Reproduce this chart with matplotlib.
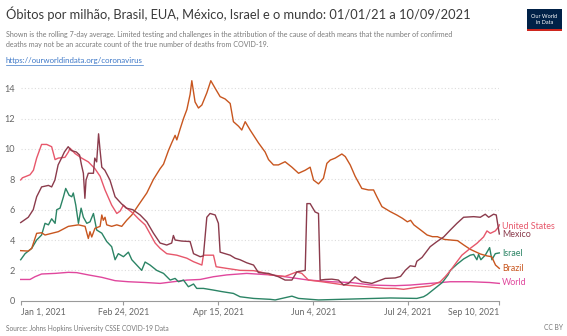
import matplotlib
matplotlib.use("Agg")
import matplotlib.pyplot as plt
from matplotlib.patches import Rectangle
from matplotlib.lines import Line2D

plt.rcParams['font.family'] = ['Lato', 'DejaVu Sans']

# day 0 = Jan 1, 2021 ; values are deaths per million (7-day avg)
united_states = [(0, 7.96), (0.9, 8.1), (4.9, 8.3), (6.7, 8.6), (8.4, 9.4), (11, 10.3), (13.7, 10.3),
                 (16.3, 10.15), (18.1, 9.3), (19.8, 9.4), (23.3, 9.45), (25.1, 9.8), (26, 10.05),
                 (28.6, 9.7), (32.1, 9.4), (35.6, 9.15), (39.1, 8.7), (41.8, 8.2), (44.4, 7.3),
                 (47.9, 6.3), (50.6, 5.75), (52.3, 5.9), (54.1, 6.3), (55.8, 6.1), (59.3, 5.75),
                 (62, 5.4), (65.5, 5.0), (66.4, 4.8), (70.8, 3.8), (73.4, 3.45), (76.9, 3.1),
                 (82.2, 3.0), (87.5, 2.8), (91, 2.57), (95.4, 2.35), (96.2, 3.0), (101.5, 3.0),
                 (102.9, 2.24), (108.5, 2.13), (115.5, 2.0), (122.6, 1.98), (126.1, 1.9),
                 (131.4, 1.7), (139.2, 1.6), (145.4, 1.9), (148, 1.8), (151.5, 1.36), (158.6, 1.25),
                 (170.9, 1.03), (181.4, 0.92), (191.9, 0.81), (197.2, 0.81), (201.6, 0.75),
                 (208.6, 0.88), (215.6, 0.97), (220.9, 1.25), (223.5, 1.58), (226.2, 1.98),
                 (229.7, 2.57), (232.3, 3.0), (236.7, 3.45), (240.2, 3.78), (243.7, 4.2),
                 (245.5, 4.6), (247.3, 4.44), (249.9, 4.6), (251.7, 4.88), (252, 5.0)]

mexico = [(0, 5.15), (4, 5.5), (6.6, 6.0), (8.4, 6.85), (11, 7.5), (14.6, 7.6), (16.3, 7.5), (18, 7.95),
          (19.7, 8.95), (21.5, 9.4), (23, 9.8), (25, 10.15), (26.6, 9.9), (29.3, 9.8), (31, 9.6),
          (32, 8.95), (33, 8.4), (33.8, 6.75), (34.4, 7.95), (35.6, 8.4), (38.3, 8.4), (39, 9.4),
          (40, 9.15), (41, 11.0), (41.8, 9.9), (42.7, 8.8), (44.3, 8.6), (47, 7.95), (49.7, 6.85),
          (53, 6.4), (55.6, 6.1), (59, 6.0), (62.9, 5.65), (66.4, 5.2), (69.9, 4.45), (73.4, 3.8),
          (76.9, 3.67), (79.5, 3.8), (80.4, 4.3), (81.3, 4.0), (84.8, 3.93), (89.2, 3.9), (91, 3.1),
          (94.5, 2.9), (96.2, 2.95), (98, 5.5), (99.7, 5.75), (102.4, 5.65), (104.1, 5.1), (105, 3.2),
          (107.6, 3.1), (110.3, 3.0), (112.9, 2.8), (115.5, 2.7), (119, 2.5), (122.6, 2.35),
          (125.2, 1.85), (130.5, 1.8), (135.7, 1.58), (139.2, 1.36), (142.8, 1.36), (145.4, 1.9),
          (149.8, 2.0), (150.7, 6.4), (152.4, 6.4), (155, 5.85), (156.8, 5.75), (157.7, 1.36),
          (160.3, 1.4), (163.8, 1.42), (167.3, 1.36), (170, 1.03), (172.6, 1.14), (176.1, 1.58),
          (179.6, 1.25), (184.9, 1.14), (191.9, 1.47), (197.2, 1.5), (200, 1.6), (202.5, 2.0),
          (205.1, 2.3), (207.7, 2.25), (208.6, 2.6), (211.3, 2.85), (215.6, 3.56), (219.2, 3.9),
          (222.7, 4.2), (226.2, 4.66), (229.7, 5.1), (233.2, 5.5), (238.5, 5.54), (242, 5.5),
          (244.6, 5.7), (246.4, 5.5), (249, 5.7), (250.4, 5.65), (251.1, 5.1), (252, 4.4)]

brazil = [(0, 3.3), (4, 3.27), (5.8, 3.45), (8.4, 4.44), (11, 4.48), (12.8, 4.33), (19.8, 4.55),
          (25.1, 4.9), (30.4, 5.0), (33.9, 4.9), (35.6, 4.1), (36.5, 4.55), (37.4, 4.2), (39.1, 4.77),
          (41.8, 4.9), (42.7, 5.65), (43.5, 5.3), (44.4, 5.5), (45.3, 5.0), (47.9, 4.9), (50.6, 5.0),
          (53.2, 4.9), (55.8, 5.3), (58.5, 5.65), (62, 6.3), (66.4, 7.1), (69.9, 8.0), (73.4, 8.7),
          (75.2, 9.0), (77.8, 9.9), (79.5, 10.4), (81.3, 10.9), (82.2, 10.6), (83.9, 11.3),
          (85.7, 12.0), (87.5, 12.6), (89.2, 13.6), (90.1, 14.5), (91.8, 13.1), (93.6, 12.7),
          (95.4, 12.9), (98, 13.7), (100.1, 14.5), (102.4, 14.0), (105, 13.45), (107.6, 13.3),
          (110.3, 13.0), (112, 11.8), (114.7, 11.5), (116.4, 11.25), (118.2, 11.8), (120.8, 11.25),
          (125.2, 10.4), (128.7, 9.8), (130.5, 9.3), (133.1, 8.95), (135.7, 8.95), (139.2, 9.16),
          (142.8, 8.8), (146.3, 8.4), (149.8, 8.6), (152.4, 8.8), (154.2, 7.95), (156.8, 7.7),
          (159.4, 8.07), (161.2, 9.05), (163, 9.27), (165.6, 9.4), (169.1, 9.67), (170.9, 9.5),
          (173.5, 8.95), (176.1, 8.2), (179.6, 7.4), (183.1, 7.3), (185.8, 7.3), (187.5, 6.86),
          (190.2, 6.2), (194.6, 5.87), (198, 5.65), (201, 5.43), (203.6, 5.2), (205.3, 5.3),
          (207, 5.0), (210.6, 4.66), (214, 4.33), (216.8, 4.22), (219.4, 4.22), (223, 4.04),
          (226.4, 4.0), (230, 3.96), (233.3, 3.67), (236.8, 3.38), (239.4, 3.23), (242, 3.08),
          (245.6, 2.95), (248, 2.9), (250, 2.35), (252, 2.13)]

israel = [(0, 2.7), (2.3, 3.1), (5.8, 3.45), (8.4, 4.0), (11, 4.33), (12.8, 5.1), (14.6, 5.0),
          (16.3, 5.4), (18.1, 5.1), (19, 6.0), (20.7, 6.1), (22.5, 6.85), (23.7, 7.4), (25.5, 6.95),
          (26.9, 6.85), (27.7, 7.1), (29, 6.3), (30.4, 5.1), (31.8, 6.1), (33, 5.5), (34.8, 5.1),
          (36.5, 5.2), (38.3, 5.75), (40, 4.66), (42.7, 4.45), (45.3, 3.9), (47.9, 3.56), (49.7, 2.7),
          (51.4, 3.1), (54.1, 2.9), (56.7, 3.2), (58.5, 2.7), (61.1, 2.35), (63.7, 2.0), (65.5, 2.55),
          (68.1, 2.35), (71.6, 2.0), (75.2, 1.8), (78.7, 1.36), (81.3, 1.47), (83.1, 1.25),
          (85.7, 1.36), (88.3, 0.92), (91, 1.1), (92.7, 0.81), (96.2, 0.81), (101.5, 0.7),
          (105.9, 0.6), (112, 0.48), (115.5, 0.26), (122.6, 0.15), (131.4, 0.09), (134, 0.05),
          (142.8, 0.3), (146.3, 0.15), (156.8, 0.05), (194.6, 0.18), (208.6, 0.15), (212.1, 0.26),
          (214, 0.4), (218, 0.8), (222, 1.2), (225, 1.7), (226.2, 2.0), (229.7, 2.4), (233.2, 2.75),
          (236.7, 3.0), (238.5, 3.05), (240.2, 2.7), (241.1, 3.05), (242.3, 2.7), (244.6, 3.0),
          (246.9, 3.5), (248.1, 2.7), (249.9, 3.1), (252, 3.15)]

world = [(0, 1.4), (4.9, 1.4), (7.5, 1.58), (11, 1.76), (18.1, 1.8), (25.1, 1.87), (29.5, 1.85),
         (35.6, 1.7), (42.7, 1.54), (49.7, 1.32), (56.7, 1.25), (65.5, 1.2), (73.4, 1.14),
         (80.4, 1.25), (87.5, 1.36), (94.5, 1.4), (101.5, 1.58), (108.5, 1.7), (119, 1.8),
         (131.4, 1.7), (139.2, 1.58), (151.5, 1.36), (163.8, 1.25), (174.4, 1.19), (184.9, 1.03),
         (197.2, 0.99), (205.1, 1.03), (215.6, 1.14), (226.2, 1.25), (236.7, 1.25), (246.9, 1.2),
         (252, 1.14)]

series = [
    ("World", world, "#e0479d", 1.2),
    ("Israel", israel, "#2b8465", 3.1),
    ("Brazil", brazil, "#c8561f", 2.1),
    ("United States", united_states, "#e7576b", 4.9),
    ("Mexico", mexico, "#8b3b4c", 4.35),
]

tick_days = [0, 54, 104, 154, 204, 252]
tick_labels = ["Jan 1, 2021", "Feb 24, 2021", "Apr 15, 2021", "Jun 4, 2021", "Jul 24, 2021", "Sep 10, 2021"]

W, H = 567, 336
fig = plt.figure(figsize=(W / 100, H / 100), dpi=100)
x0, x1, y0, y1 = 20.7, 499.3, 300.7, 79.2
ax = fig.add_axes([x0 / W, 1 - y0 / H, (x1 - x0) / W, (y0 - y1) / H])

for yv in range(2, 15, 2):
    ax.axhline(yv, color="#dcdcdc", lw=0.8, ls=(0, (1, 2)), zorder=0)

for name, pts, col, ly in series:
    xs = [p[0] for p in pts]
    ys = [p[1] for p in pts]
    ax.plot(xs, ys, color=col, lw=1.0, solid_joinstyle="round", clip_on=False)
    ax.annotate(name, xy=(252, ly), xytext=(2, 0), textcoords="offset points",
                color=col, fontsize=6.4, va="center", ha="left", annotation_clip=False)

ax.set_xlim(0, 252)
ax.set_ylim(0, 14.6)
for s in ["top", "right", "left"]:
    ax.spines[s].set_visible(False)
ax.spines["bottom"].set_color("#9a9a9a")
ax.spines["bottom"].set_linewidth(0.8)

ax.set_yticks(range(0, 15, 2))
ax.tick_params(axis="y", length=0, pad=4, labelsize=6.6, labelcolor="#666666")
ax.set_xticks(tick_days)
ax.set_xticklabels(tick_labels)
ax.tick_params(axis="x", length=3, width=0.8, color="#9a9a9a", pad=2, labelsize=6.3, labelcolor="#666666")
xl = ax.get_xticklabels()
xl[0].set_ha("left")
xl[-1].set_ha("right")

fig.text(6 / W, 1 - 14 / H, "Óbitos por milhão, Brasil, EUA, México, Israel e o mundo: 01/01/21 a 10/09/2021",
         fontsize=9.3, color="#3a3a3a", va="center", ha="left")
fig.text(6 / W, 1 - 34 / H, "Shown is the rolling 7-day average. Limited testing and challenges in the attribution of the cause of death means that the number of confirmed",
         fontsize=5.15, color="#7a7a7a", va="center", ha="left")
fig.text(6 / W, 1 - 44 / H, "deaths may not be an accurate count of the true number of deaths from COVID-19.",
         fontsize=5.15, color="#7a7a7a", va="center", ha="left")
url = fig.text(6 / W, 1 - 61 / H, "https://ourworldindata.org/coronavirus",
               fontsize=5.7, color="#3d78c8", va="center", ha="left")
fig.text(6 / W, 1 - 328 / H, "Source: Johns Hopkins University CSSE COVID-19 Data",
         fontsize=4.8, color="#777777", va="center", ha="left")
fig.text(563 / W, 1 - 328 / H, "CC BY", fontsize=4.8, color="#777777", va="center", ha="right")

# logo
fig.patches.append(Rectangle((527 / W, 1 - 31 / H), 35 / W, 22 / H, transform=fig.transFigure,
                             facecolor="#002147", edgecolor="none"))
fig.patches.append(Rectangle((527 / W, 1 - 31 / H), 35 / W, 2 / H, transform=fig.transFigure,
                             facecolor="#ce261e", edgecolor="none"))
fig.text(544.5 / W, 1 - 19.5 / H, "Our World\nin Data", fontsize=4.0, color="white",
         ha="center", va="center", linespacing=1.0)

# underline for the link
fig.canvas.draw()
bb = url.get_window_extent(fig.canvas.get_renderer())
fig.lines.append(Line2D([bb.x0 / W, bb.x1 / W], [(bb.y0 - 0.5) / H, (bb.y0 - 0.5) / H],
                        transform=fig.transFigure, color="#3d78c8", lw=0.5))

fig.savefig("out.png", dpi=100)
